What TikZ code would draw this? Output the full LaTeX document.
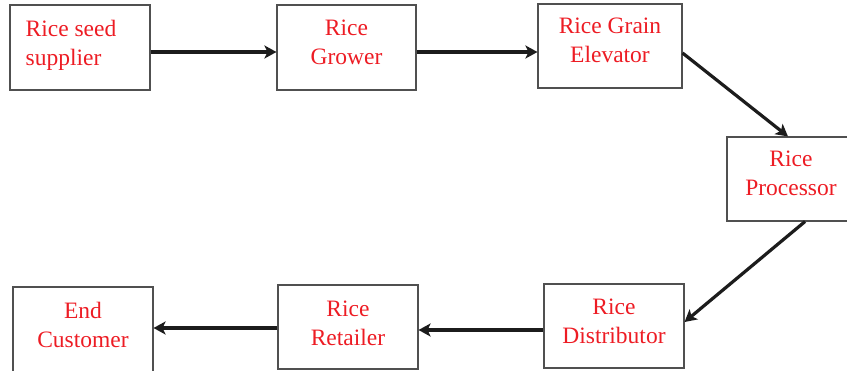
\documentclass[tikz,border=0pt]{standalone}
\usepackage{fontspec}
\setmainfont{Liberation Serif}
\usetikzlibrary{arrows.meta}

\definecolor{labelred}{RGB}{237,28,36}
\definecolor{boxgray}{RGB}{80,80,80}
\definecolor{arrowblack}{RGB}{28,28,28}

\tikzset{
  stage/.style={draw=boxgray, line width=1.1pt, inner sep=0pt,
    minimum width=140pt, minimum height=85pt},
  stagetext/.style={text=labelred, inner sep=0pt, align=center,
    font=\fontsize{23.5}{29}\selectfont},
  flow/.style={draw=arrowblack, line width=3.2pt,
    -{Stealth[length=12pt,width=13pt,inset=3pt]}}
}

\begin{document}
\begin{tikzpicture}[x=1pt,y=-1pt]
  \useasboundingbox (0,0) rectangle (847,370);
  \clip (0,0) rectangle (847,370);

  % supply chain stages
  \node[stage, label={[stagetext,align=left,anchor=north west,xshift=16pt,yshift=-15.5pt]north west:{Rice seed\\supplier}}]
    (seed) at (80,47.5) {};
  \node[stage, minimum width=139pt, label={[stagetext,anchor=north,yshift=-15.5pt]north:{Rice\\Grower}}]
    (grower) at (346.5,47.5) {};
  \node[stage, minimum width=144pt, minimum height=84pt, label={[stagetext,anchor=north,yshift=-14.5pt]north:{Rice Grain\\Elevator}}]
    (elev) at (610,46) {};
  \node[stage, minimum width=128pt, minimum height=84pt, label={[stagetext,anchor=north,yshift=-14pt]north:{Rice\\Processor}}]
    (proc) at (791,179) {};
  \node[stage, minimum height=84pt, label={[stagetext,anchor=north,yshift=-15pt]north:{Rice\\Distributor}}]
    (dist) at (614,326) {};
  \node[stage, minimum height=84pt, label={[stagetext,anchor=north,yshift=-16pt]north:{Rice\\Retailer}}]
    (ret) at (348,327) {};
  \node[stage, label={[stagetext,anchor=north,yshift=-16pt]north:{End\\Customer}}]
    (cust) at (83,329.5) {};

  % flow of product
  \draw[flow] ([yshift=-4.5pt]seed.east) -- ([yshift=-4.5pt]grower.west);
  \draw[flow] ([yshift=-4.5pt]grower.east) -- ([yshift=-6pt]elev.west);
  \draw[flow] ([yshift=-7pt]elev.east) -- ([xshift=-3pt]proc.north);
  \draw[flow] ([xshift=14pt]proc.south) -- ([yshift=4pt]dist.east);
  \draw[flow] ([yshift=-4pt]dist.west) -- ([yshift=-3pt]ret.east);
  \draw[flow] ([yshift=-1pt]ret.west) -- ([yshift=1.5pt]cust.east);
\end{tikzpicture}
\end{document}
